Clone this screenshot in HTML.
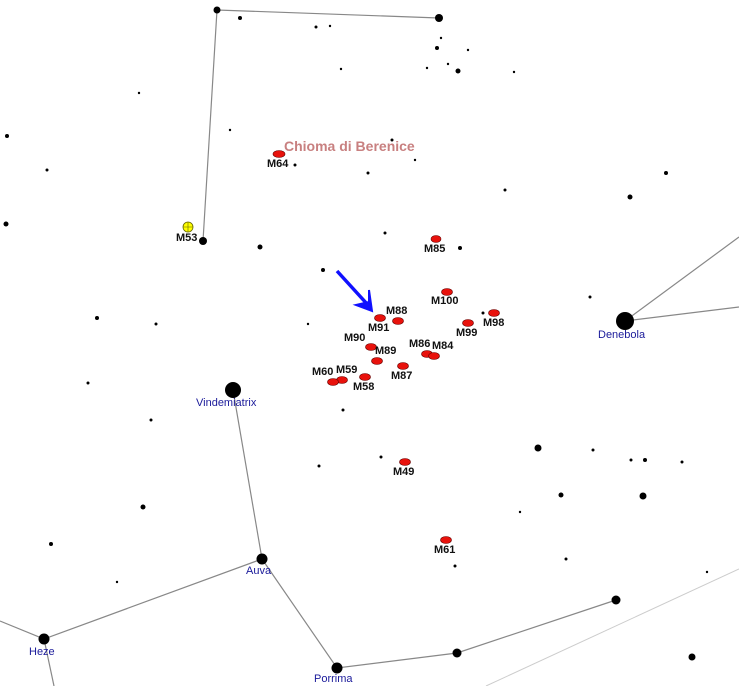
<!DOCTYPE html>
<html><head><style>
html,body{margin:0;padding:0;background:#fff;}
svg{display:block;font-family:"Liberation Sans",sans-serif;}
.l{font-size:11px;font-weight:bold;fill:#111;}
.n{font-size:11px;fill:#1a1a9a;}
</style></head><body>
<svg width="739" height="686" viewBox="0 0 739 686" xmlns="http://www.w3.org/2000/svg">
<g stroke="#888" stroke-width="1.2" fill="none">
<polyline points="439,18 217,10 203,241"/>
<line x1="625" y1="321" x2="739" y2="237"/>
<line x1="625" y1="321" x2="739" y2="307"/>
<polyline points="233,390 262,559 337,668 457,653 616,600"/>
<polyline points="262,559 44,639 0,621"/>
<line x1="44" y1="639" x2="54" y2="686"/>
</g>
<line x1="486" y1="686" x2="739" y2="569" stroke="#ccc" stroke-width="1"/>
<g fill="#000">
<circle cx="217" cy="10" r="3.5"/><circle cx="439" cy="18" r="4"/><circle cx="203" cy="241" r="4"/>
<circle cx="625" cy="321" r="9"/><circle cx="233" cy="390" r="8"/><circle cx="262" cy="559" r="5.5"/>
<circle cx="44" cy="639" r="5.5"/><circle cx="337" cy="668" r="5.5"/><circle cx="457" cy="653" r="4.5"/><circle cx="616" cy="600" r="4.5"/>
<circle cx="240" cy="18" r="2"/><circle cx="316" cy="27" r="1.5"/><circle cx="330" cy="26" r="1.2"/><circle cx="437" cy="48" r="2"/>
<circle cx="441" cy="38" r="1.2"/><circle cx="458" cy="71" r="2.5"/><circle cx="448" cy="64" r="1.2"/><circle cx="427" cy="68" r="1.2"/>
<circle cx="468" cy="50" r="1.2"/><circle cx="514" cy="72" r="1.2"/><circle cx="341" cy="69" r="1.2"/><circle cx="7" cy="136" r="2"/>
<circle cx="47" cy="170" r="1.5"/><circle cx="6" cy="224" r="2.5"/><circle cx="139" cy="93" r="1.2"/><circle cx="230" cy="130" r="1.2"/>
<circle cx="392" cy="140" r="1.5"/><circle cx="368" cy="173" r="1.5"/><circle cx="295" cy="165" r="1.5"/><circle cx="415" cy="160" r="1.2"/>
<circle cx="505" cy="190" r="1.5"/><circle cx="630" cy="197" r="2.5"/><circle cx="666" cy="173" r="2"/><circle cx="260" cy="247" r="2.5"/>
<circle cx="385" cy="233" r="1.5"/><circle cx="460" cy="248" r="2"/><circle cx="323" cy="270" r="2"/><circle cx="308" cy="324" r="1.2"/>
<circle cx="483" cy="313" r="1.5"/><circle cx="590" cy="297" r="1.5"/><circle cx="97" cy="318" r="2"/><circle cx="156" cy="324" r="1.5"/>
<circle cx="88" cy="383" r="1.5"/><circle cx="151" cy="420" r="1.5"/><circle cx="343" cy="410" r="1.5"/><circle cx="319" cy="466" r="1.5"/>
<circle cx="381" cy="457" r="1.5"/><circle cx="538" cy="448" r="3.5"/><circle cx="593" cy="450" r="1.5"/><circle cx="631" cy="460" r="1.5"/>
<circle cx="645" cy="460" r="2"/><circle cx="682" cy="462" r="1.5"/><circle cx="561" cy="495" r="2.5"/><circle cx="643" cy="496" r="3.5"/>
<circle cx="143" cy="507" r="2.5"/><circle cx="51" cy="544" r="2"/><circle cx="117" cy="582" r="1.2"/><circle cx="455" cy="566" r="1.5"/>
<circle cx="566" cy="559" r="1.5"/><circle cx="707" cy="572" r="1.2"/><circle cx="692" cy="657" r="3.5"/><circle cx="520" cy="512" r="1.2"/>
</g>
<g fill="#e8120c" stroke="#600" stroke-width="0.6">
<ellipse cx="279" cy="154" rx="6" ry="3.5"/><ellipse cx="436" cy="239" rx="5" ry="3.5"/><ellipse cx="447" cy="292" rx="5.5" ry="3.5"/>
<ellipse cx="494" cy="313" rx="5.5" ry="3.5"/><ellipse cx="398" cy="321" rx="5.5" ry="3.5"/><ellipse cx="380" cy="318" rx="5.5" ry="3.5"/>
<ellipse cx="468" cy="323" rx="5.5" ry="3.5"/><ellipse cx="371" cy="347" rx="5.5" ry="3.5"/><ellipse cx="377" cy="361" rx="5.5" ry="3.5"/>
<ellipse cx="427" cy="354" rx="5.5" ry="3.5"/><ellipse cx="434" cy="356" rx="5.5" ry="3.5"/><ellipse cx="403" cy="366" rx="5.5" ry="3.5"/>
<ellipse cx="365" cy="377" rx="5.5" ry="3.5"/><ellipse cx="342" cy="380" rx="5.5" ry="3.5"/><ellipse cx="333" cy="382" rx="5.5" ry="3.5"/>
<ellipse cx="405" cy="462" rx="5.5" ry="3.5"/><ellipse cx="446" cy="540" rx="5.5" ry="3.5"/>
</g>
<circle cx="188" cy="227" r="5" fill="#ff0" stroke="#660" stroke-width="0.8"/>
<path d="M183,227h10M188,222v10" stroke="#660" stroke-width="0.6"/>
<line x1="337" y1="271" x2="368" y2="305" stroke="#1010ff" stroke-width="3.5"/>
<path d="M372,311 L356,305 L369,302 L369,290 Z" fill="#1010ff" stroke="#1010ff" stroke-width="2"/>
<text x="284" y="151" style="font-size:14px;font-weight:bold;fill:#c88080">Chioma di Berenice</text>
<g class="l">
<text x="267" y="167">M64</text><text x="176" y="241">M53</text><text x="424" y="252">M85</text><text x="431" y="304">M100</text>
<text x="483" y="326">M98</text><text x="386" y="314">M88</text><text x="368" y="331">M91</text><text x="456" y="336">M99</text>
<text x="344" y="341">M90</text><text x="375" y="354">M89</text><text x="409" y="347">M86</text><text x="432" y="349">M84</text>
<text x="391" y="379">M87</text><text x="353" y="390">M58</text><text x="336" y="373">M59</text><text x="312" y="375">M60</text>
<text x="393" y="475">M49</text><text x="434" y="553">M61</text>
</g>
<g class="n">
<text x="598" y="338">Denebola</text><text x="196" y="406">Vindemiatrix</text><text x="246" y="574">Auva</text>
<text x="29" y="655">Heze</text><text x="314" y="682">Porrima</text>
</g>
</svg>
</body></html>
